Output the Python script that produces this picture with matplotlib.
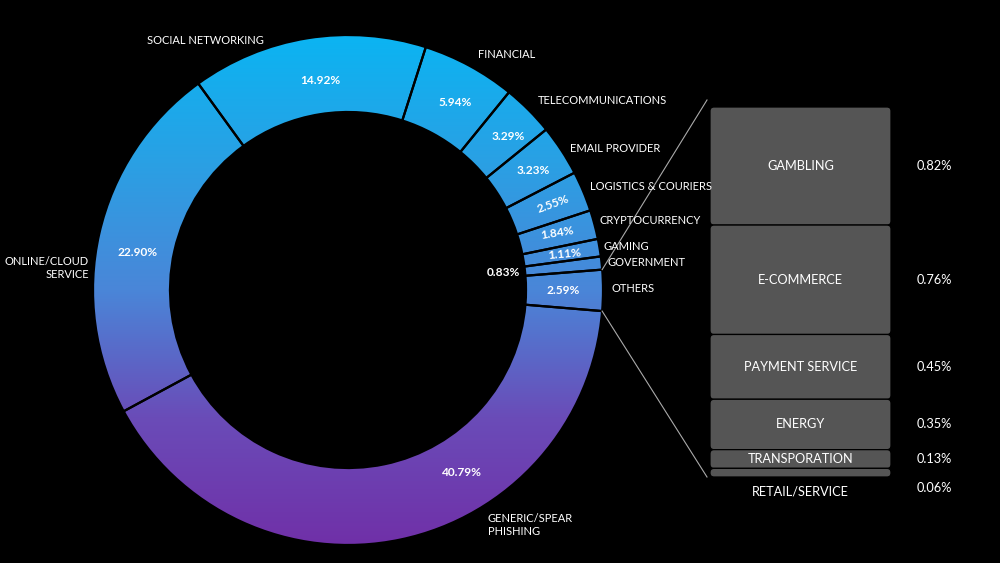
import matplotlib.pyplot as plt
import numpy as np
from matplotlib.colors import LinearSegmentedColormap
from matplotlib.patches import FancyBboxPatch

# donut data (clockwise from the left)
categories = ["ONLINE/CLOUD\nSERVICE", "SOCIAL NETWORKING", "FINANCIAL", "TELECOMMUNICATIONS",
              "EMAIL PROVIDER", "LOGISTICS & COURIERS", "CRYPTOCURRENCY", "GAMING",
              "GOVERNMENT", "OTHERS", "GENERIC/SPEAR\nPHISHING"]
values = [22.90, 14.92, 5.94, 3.29, 3.23, 2.55, 1.84, 1.11, 0.83, 2.59, 40.79]

# breakdown of "others"
other_labels = ["GAMBLING", "E-COMMERCE", "PAYMENT SERVICE", "ENERGY", "TRANSPORATION", "RETAIL/SERVICE"]
other_values = [0.82, 0.76, 0.45, 0.35, 0.13, 0.06]

W, H = 1000, 563
def py(y):  # pixel row -> axes y
    return H - y

fig = plt.figure(figsize=(10, 5.63), dpi=100, facecolor="black")
ax = fig.add_axes([0, 0, 1, 1])
ax.set_facecolor("black")

cx, cy, R, ring = 348, py(290), 255, 77
wedges, _ = ax.pie(values, center=(cx, cy), radius=R, startangle=208.4, counterclock=False,
                   wedgeprops=dict(width=ring, facecolor="none", edgecolor="black", linewidth=1.6),
                   frame=True)

cmap = LinearSegmentedColormap.from_list("g", ["#7030a8", "#6a4cb8", "#4a86d8", "#2aa0e4", "#0bb4f2"])
grad = np.linspace(0, 1, 256).reshape(-1, 1)
for w in wedges:
    im = ax.imshow(grad, extent=[cx - R, cx + R, cy - R, cy + R], origin="lower",
                   cmap=cmap, aspect="auto", zorder=0.5)
    im.set_clip_path(w)
    w.set_zorder(1)

# percent labels (pixel positions)
pct_pos = [(138, 253, 0), (320, 81, 0), (455, 102, 0), (508, 137, 0), (533, 170, 0),
           (553, 204, 20), (557, 233, 9), (565, 254, 5), (503, 273, 0), (563, 290, 0), (462, 472, 0)]
for v, (x, y, rot) in zip(values, pct_pos):
    ax.text(x, py(y), f"{v:.2f}%", color="white", fontsize=8.6, fontweight="bold",
            family="Lato", ha="center", va="center", rotation=rot, zorder=3)

# category labels
cat_pos = [(89, 268, "right"), (147, 40, "left"), (478, 55, "left"), (538, 101, "left"),
           (570, 148, "left"), (590, 187, "left"), (600, 220, "left"), (603, 247, "left"),
           (607, 263, "left"), (611, 289, "left"), (488, 525, "left")]
for lab, (x, y, ha) in zip(categories, cat_pos):
    ax.text(x, py(y), lab, color="white", fontsize=8, family="Lato", ha=ha, va="center",
            multialignment=ha, linespacing=1.3, zorder=3)

# stacked breakdown bar
bx, bw, top = 710, 181, py(107)
scale = 370 / sum(other_values)
y0 = top
centers = []
for lab, v in zip(other_labels, other_values):
    h = v * scale
    box = FancyBboxPatch((bx, y0 - h), bw, h, boxstyle="round,pad=0,rounding_size=4",
                         facecolor="#555555", edgecolor="black", linewidth=0.9, zorder=2)
    ax.add_patch(box)
    centers.append(y0 - h / 2)
    y0 -= h
bottom = y0

for i, (lab, v) in enumerate(zip(other_labels, other_values)):
    last = i == len(other_labels) - 1
    yc = py(491) if last else centers[i]
    ax.text(bx + bw / 2, yc, lab, color="white", fontsize=9.2, family="Lato",
            ha="center", va="center", zorder=3)
    yp = py(488) if last else centers[i]
    ax.text(917, yp, f"{v:.2f}%", color="white", fontsize=9.2, family="Lato",
            ha="left", va="center", zorder=3)

# connector lines from the "others" slice
oth = wedges[categories.index("OTHERS")]
for ang, yend in [(oth.theta2, top + 7), (oth.theta1, bottom)]:
    a = np.deg2rad(ang)
    ax.plot([cx + R * np.cos(a), bx - 3], [cy + R * np.sin(a), yend],
            color="#aaaaaa", linewidth=0.8, zorder=1)

ax.set_xlim(0, W)
ax.set_ylim(0, H)
ax.set_aspect("auto")
ax.axis("off")
fig.savefig("out.png", dpi=100, facecolor="black")
